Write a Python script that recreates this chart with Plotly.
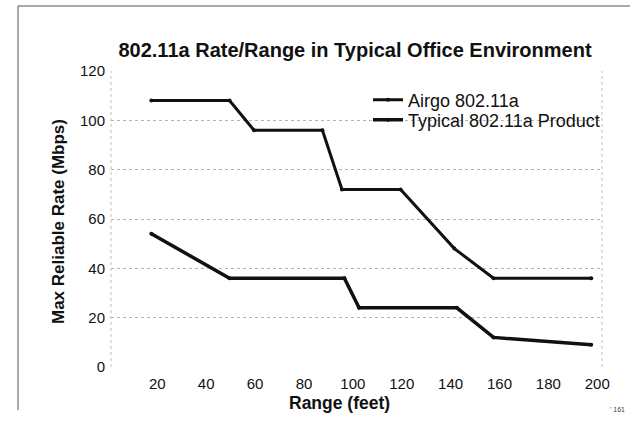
import plotly.graph_objects as go

# Data
airgo_range = [20, 52, 62, 90, 98, 122, 144, 160, 200]
airgo_rate = [108, 108, 96, 96, 72, 72, 48, 36, 36]
typical_range = [20, 52, 99, 105, 145, 160, 200]
typical_rate = [54, 36, 36, 24, 24, 12, 9]
x_ticks = [20, 40, 60, 80, 100, 120, 140, 160, 180, 200]
y_ticks = [0, 20, 40, 60, 80, 100, 120]

FONT = "Liberation Sans, Arial, sans-serif"
INK = "#111111"

# plot area in page pixels
L, R, T, B = 111, 602, 71, 367


def px_x(px):
    return (px - L) / (R - L)


def px_y(py):
    return (B - py) / (B - T)


fig = go.Figure()
fig.add_trace(go.Scatter(
    x=airgo_range, y=airgo_rate, mode="lines+markers", name="Airgo 802.11a",
    line=dict(color=INK, width=3), marker=dict(size=4, color=INK), legend="legend",
))
fig.add_trace(go.Scatter(
    x=typical_range, y=typical_rate, mode="lines+markers", name="Typical 802.11a Product",
    line=dict(color=INK, width=3.5), marker=dict(size=4, color=INK), legend="legend2",
))

legend_common = dict(
    xanchor="left", yanchor="middle", bgcolor="rgba(0,0,0,0)",
    font=dict(size=18, family=FONT, color=INK), itemwidth=30,
)

fig.update_layout(
    width=630, height=421,
    margin=dict(l=L, r=630 - R, t=T, b=421 - B, autoexpand=False),
    paper_bgcolor="white", plot_bgcolor="white",
    font=dict(family=FONT, color=INK),
    title=dict(
        text="<b>802.11a Rate/Range in Typical Office Environment</b>",
        font=dict(size=20, family=FONT, color=INK),
        x=355 / 630, xanchor="center", xref="container",
        y=1 - 50 / 421, yanchor="middle", yref="container",
    ),
    showlegend=True,
    legend=dict(x=px_x(368), y=px_y(100), **legend_common),
    legend2=dict(x=px_x(368), y=px_y(120), **legend_common),
    xaxis=dict(
        range=[3.5, 204.4], tickvals=x_ticks, showgrid=False, zeroline=False,
        showline=False, ticks="", tickfont=dict(size=15, family=FONT, color=INK),
        ticklabelstandoff=6, ticklabelshift=6,
    ),
    yaxis=dict(
        range=[0, 120], tickvals=y_ticks, showgrid=True, gridcolor="#b5b5b5",
        griddash="dot", gridwidth=1, zeroline=False, showline=False, ticks="",
        tickfont=dict(size=15, family=FONT, color=INK), ticklabelstandoff=5,
    ),
    annotations=[
        dict(text="<b>Range (feet)</b>", x=px_x(339), y=px_y(403),
             xref="paper", yref="paper", xanchor="center", yanchor="middle",
             showarrow=False, font=dict(size=17.5, family=FONT, color=INK)),
        dict(text="<b>Max Reliable Rate (Mbps)</b>", textangle=-90,
             x=px_x(58), y=px_y(222), xref="paper", yref="paper",
             xanchor="center", yanchor="middle",
             showarrow=False, font=dict(size=17, family=FONT, color=INK)),
        dict(text="' 161", x=px_x(617), y=px_y(409), xref="paper", yref="paper",
             xanchor="center", yanchor="middle",
             showarrow=False, font=dict(size=7, family=FONT, color="#444444")),
    ],
    shapes=[
        dict(type="line", xref="paper", yref="paper", x0=0, x1=0, y0=0, y1=1,
             line=dict(color="#c0c0c0", width=1, dash="dot")),
        dict(type="line", xref="paper", yref="paper", x0=1, x1=1, y0=0, y1=1,
             line=dict(color="#c0c0c0", width=1, dash="dot")),
        dict(type="line", xref="paper", yref="paper",
             x0=px_x(18), x1=px_x(630), y0=px_y(6), y1=px_y(6),
             line=dict(color="#555555", width=1)),
        dict(type="line", xref="paper", yref="paper",
             x0=px_x(18), x1=px_x(18), y0=px_y(6), y1=px_y(410),
             line=dict(color="#555555", width=1)),
    ],
)

fig.write_html(
    "out.html",
    config={"displayModeBar": False},
    post_script="document.body.style.margin='0px';",
)
